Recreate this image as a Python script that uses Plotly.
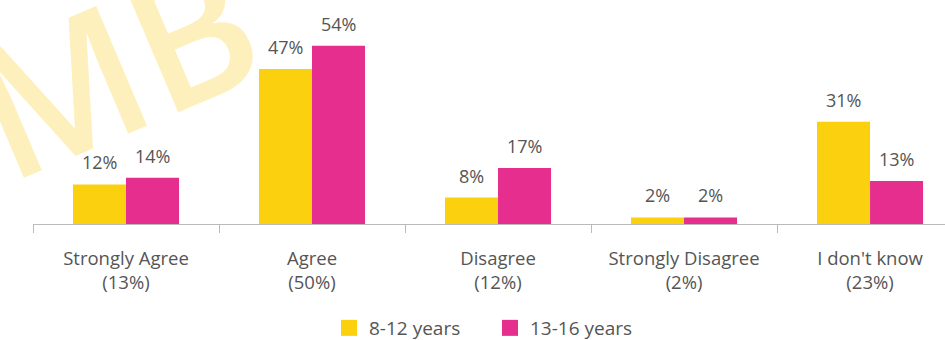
import plotly.graph_objects as go

categories = ["Strongly Agree<br>(13%)", "Agree<br>(50%)", "Disagree<br>(12%)",
              "Strongly Disagree<br>(2%)", "I don't know<br>(23%)"]
series_names = ["8-12 years", "13-16 years"]
values_8_12 = [12, 47, 8, 2, 31]
values_13_16 = [14, 54, 17, 2, 13]
colors = ["#FBD00E", "#E62E8E"]

FONT = "Open Sans"
TXT = "#555555"

fig = go.Figure()
for name, vals, col in zip(series_names, [values_8_12, values_13_16], colors):
    fig.add_trace(go.Bar(x=categories, y=vals, name=name, marker_color=col,
                         marker_line_width=0, showlegend=False))
# legend entries with larger square symbols
for name, col in zip(series_names, colors):
    fig.add_trace(go.Scatter(x=[None], y=[None], mode="markers", name=name,
                             marker=dict(symbol="square", size=16, color=col)))

annotations = []
# faint watermark (drawn first, underneath the value labels)
annotations.append(dict(xref="paper", yref="paper", x=(113 - 33) / 912, y=(224 - 63) / 198,
                        text="MB", showarrow=False, textangle=-23,
                        xanchor="center", yanchor="middle",
                        font=dict(family=FONT, size=182, weight=600, color="#FEF0BC")))
for vals, shift in [(values_8_12, -26.5), (values_13_16, 26.5)]:
    for c, v in zip(categories, vals):
        annotations.append(dict(x=c, y=v, xref="x", yref="y", text=f"{v}%",
                                showarrow=False, xshift=shift, yshift=22,
                                yanchor="middle", xanchor="center",
                                font=dict(family=FONT, size=18, color=TXT)))

fig.update_layout(
    width=945, height=340,
    margin=dict(l=33, r=0, t=26, b=116, autoexpand=False),
    paper_bgcolor="white", plot_bgcolor="white",
    barmode="group", bargap=0.43, bargroupgap=0,
    font=dict(family=FONT, size=18, color=TXT),
    annotations=annotations,
    legend=dict(orientation="h", x=(329 - 33) / 912, xanchor="left",
                y=-(328 - 224) / 198, yanchor="middle", entrywidth=116,
                font=dict(family=FONT, size=19, color=TXT),
                itemsizing="trace", tracegroupgap=0),
    xaxis=dict(type="category", range=[-0.5, 4.403], showline=True, linecolor="#BBBBBB",
               linewidth=1, ticks="outside", tickson="boundaries", ticklen=8,
               tickcolor="#BBBBBB", tickfont=dict(family=FONT, size=18.5, color=TXT),
               ticklabelstandoff=18,
               showgrid=False, zeroline=False, fixedrange=True),
    yaxis=dict(range=[0, 60], visible=False, showgrid=False, zeroline=False),
)

fig.write_html("out.html")
